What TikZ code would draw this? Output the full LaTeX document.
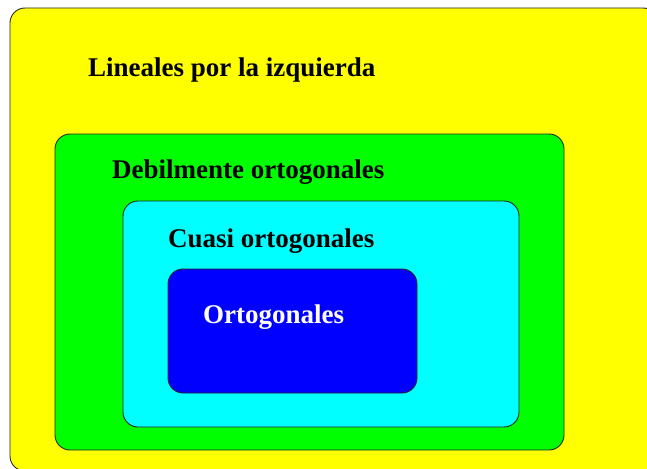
\documentclass[tikz,border=0pt]{standalone}
\usepackage{fontspec}
\setmainfont{Liberation Serif}
\definecolor{setyellow}{RGB}{255,255,0}
\definecolor{setgreen}{RGB}{0,255,0}
\definecolor{setcyan}{RGB}{0,255,255}
\definecolor{setblue}{RGB}{0,0,255}
\begin{document}
\begin{tikzpicture}[x=1pt,y=-1pt,
  setbox/.style={draw=black!85,line width=0.9pt,rounded corners=15pt},
  setlabel/.style={anchor=base west,inner sep=0pt,font=\fontsize{27}{30}\selectfont\bfseries}]
\useasboundingbox (0,0) rectangle (647,468);
\clip (0,0) rectangle (647,468);
\fill[white] (0,0) rectangle (647,468);
\draw[setbox,fill=setyellow] (10,8) rectangle (658,471);
\draw[setbox,fill=setgreen] (55,134) rectangle (564,450);
\draw[setbox,fill=setcyan] (123,201) rectangle (519,427);
\draw[setbox,fill=setblue] (168,269) rectangle (417,393);
\node[setlabel] (lin) at (88,77) {Lineales por la izquierda};
\node[setlabel] (deb) at (112,178) {Debilmente ortogonales};
\node[setlabel] (cua) at (168,247) {Cuasi ortogonales};
\node[setlabel,text=white] (ort) at (203,323) {Ortogonales};
\end{tikzpicture}
\end{document}
